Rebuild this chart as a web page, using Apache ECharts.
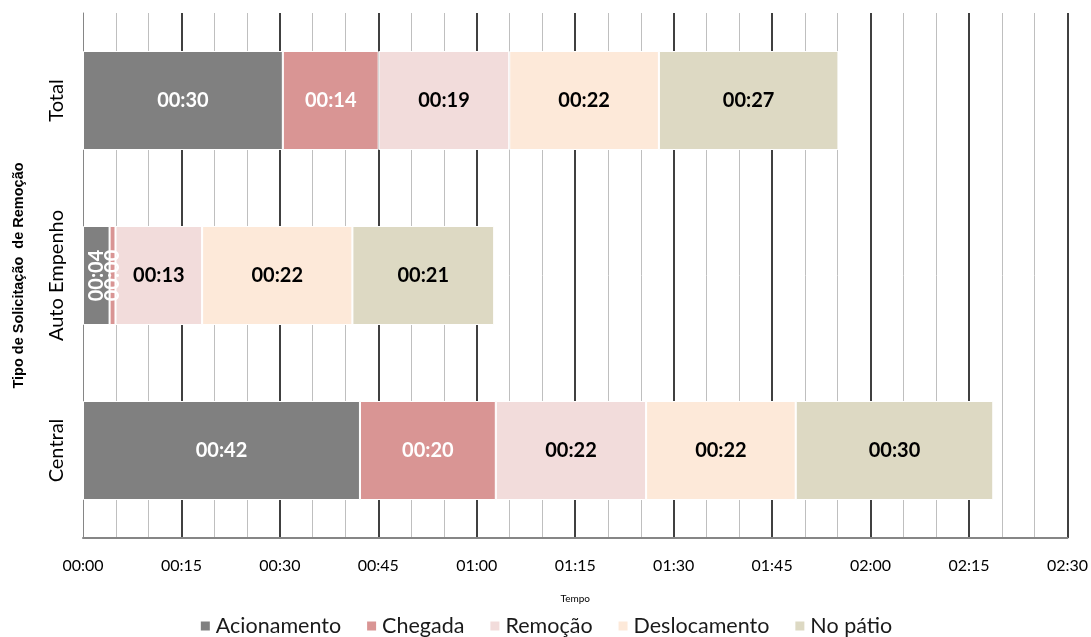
<!DOCTYPE html>
<html>
<head>
<meta charset="utf-8">
<title>Tempo por tipo de solicitação de remoção</title>
<script src="https://cdn.jsdelivr.net/npm/echarts@6/dist/echarts.min.js"></script>
<style>
  html, body { margin: 0; padding: 0; background: #fff; }
  #chart { width: 1091px; height: 637px; }
</style>
</head>
<body>
<div id="chart"></div>
<script>
// Categories, bottom to top
const categories = ['Central', 'Auto Empenho', 'Total'];

// Durations in minutes per stage (Central, Auto Empenho, Total)
const acionamento  = [42.2, 4.05, 30.45];
const chegada      = [20.7, 0.9, 14.6];
const remocao      = [22.9, 13.2, 19.9];
const deslocamento = [22.8, 22.9, 22.8];
const noPatio      = [30.1, 21.6, 27.35];

const seriesNames = ['Acionamento', 'Chegada', 'Remoção', 'Deslocamento', 'No pátio'];
const seriesData = [acionamento, chegada, remocao, deslocamento, noPatio];
const seriesColors = ['#808080', '#d99594', '#f2dcdb', '#fde9d9', '#ddd9c3'];
const labelColors = ['#ffffff', '#ffffff', '#000000', '#000000', '#000000'];

// Time axis: 00:00 to 02:30
const axisMin = 0;
const axisMax = 150;
const axisStep = 15;

// hh:mm, whole minutes (seconds dropped)
function hhmm(minutes) {
  const m = Math.floor(minutes + 1e-9);
  const h = Math.floor(m / 60);
  const r = m % 60;
  return String(h).padStart(2, '0') + ':' + String(r).padStart(2, '0');
}

const LABEL_FONT = 'Lato, "Open Sans", sans-serif';

const series = seriesNames.map((name, i) => ({
  name: name,
  type: 'bar',
  stack: 'tempo',
  barWidth: 99,
  itemStyle: { color: seriesColors[i], borderColor: '#ffffff', borderWidth: 1 },
  label: {
    show: true,
    position: 'inside',
    color: labelColors[i],
    fontFamily: LABEL_FONT,
    fontWeight: 'bold',
    fontSize: 20,
    formatter: p => hhmm(p.value)
  },
  // very narrow segments get their label turned upright
  data: seriesData[i].map(v => v < 6 ? { value: v, label: { rotate: 90 } } : v)
}));

const chart = echarts.init(document.getElementById('chart'), null, { renderer: 'canvas' });
chart.setOption({
  animation: false,
  backgroundColor: '#ffffff',
  grid: { left: 83, right: 23, top: 13, bottom: 99, containLabel: false },
  legend: {
    data: seriesNames,
    top: 615,
    left: 'center',
    padding: [0, 5],
    icon: 'rect',
    itemWidth: 11,
    itemHeight: 11,
    itemGap: 24,
    textStyle: { fontFamily: LABEL_FONT, fontSize: 21.5, color: '#1a1a1a' }
  },
  xAxis: {
    type: 'value',
    min: axisMin,
    max: axisMax,
    interval: axisStep,
    name: 'Tempo',
    nameLocation: 'middle',
    nameGap: 56,
    nameTextStyle: { fontFamily: LABEL_FONT, fontSize: 10, color: '#000' },
    axisLine: { show: true, onZero: false, lineStyle: { color: '#868686', width: 2 } },
    axisTick: { show: false },
    axisLabel: {
      fontFamily: LABEL_FONT, fontSize: 16, color: '#000', margin: 20,
      formatter: v => hhmm(v)
    },
    splitLine: { show: true, showMinLine: false, lineStyle: { color: '#000000', width: 1.5 } },
    minorTick: { show: false, splitNumber: 3 },
    minorSplitLine: { show: true, lineStyle: { color: '#bfbfbf', width: 1 } }
  },
  yAxis: {
    type: 'category',
    data: categories,
    name: 'Tipo de Solicitação  de Remoção',
    nameLocation: 'middle',
    nameGap: 57,
    nameRotate: 90,
    nameTextStyle: { fontFamily: '"Liberation Sans", Arial, sans-serif', fontWeight: 'bold', fontSize: 14.5, color: '#000' },
    axisLine: { show: true, lineStyle: { color: '#868686', width: 1 } },
    axisTick: { show: false },
    axisLabel: { rotate: 90, fontFamily: LABEL_FONT, fontSize: 20, color: '#000', margin: 16 },
    splitLine: { show: false }
  },
  series: series
});
</script>
</body>
</html>
